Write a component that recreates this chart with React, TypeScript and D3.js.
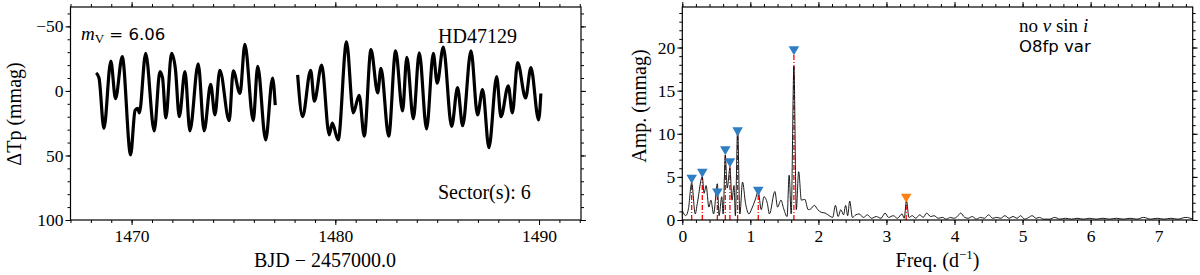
import * as d3 from 'd3';
import { useEffect, useRef } from 'react';

const WIDTH = 1200;
const HEIGHT = 275;
const SERIF = '"Liberation Serif", "DejaVu Serif", serif';
const SANS = '"DejaVu Sans", sans-serif';

// TESS light curve, turning points (BJD - 2457000, mmag)
const lcSeg1Time = [
    1468.26, 1468.4, 1468.64, 1468.98, 1469.21, 1469.54, 1469.95, 1470.17, 1470.29, 1470.38, 1470.69, 1471.11,
    1471.39, 1471.52, 1471.68, 1471.96, 1472.15, 1472.34, 1472.62, 1472.86, 1473.27, 1473.56, 1473.88, 1474.09,
    1474.33, 1474.79, 1474.99, 1475.32, 1475.56, 1475.97, 1476.19, 1476.58, 1476.92, 1477.05,
];
const lcSeg1Mag = [
    -14, -10, 29, -23, 6, -26.5, 49.5, 15, 13.5, 17, -29, 31, -15, -10, 21, -29, -17, 20, -15, 31, -21, 31, -5, 18.5,
    -16, 23, -15.5, 2, -36, 23, -19, 38, -10, 11,
];
const lcSeg2Time = [
    1478.15, 1478.39, 1478.79, 1478.97, 1479.33, 1479.7, 1479.85, 1480.14, 1480.55, 1480.88, 1481.17, 1481.42,
    1481.75, 1482.08, 1482.24, 1482.62, 1482.96, 1483.3, 1483.51, 1483.83, 1484.12, 1484.48, 1484.81, 1485.0,
    1485.3, 1485.71, 1486.0, 1486.25, 1486.66, 1486.98, 1487.23, 1487.54, 1487.92, 1488.13, 1488.49, 1488.69,
    1488.95, 1489.34, 1489.6, 1489.98, 1490.09,
];
const lcSeg2Mag = [
    -12.5, 20, -16, 8, -20, 34, 25, 38, -38, 17, 3.5, 35, -32, 1.5, -17.5, 35, -31, 15.5, -26, 21.5, -29.5, 29.5, -29,
    -6, -34, 27.5, -2.5, 27, -31, 18.5, -1, 44, -11, 20, -4, 17, -22, 5.5, -18, 22.5, 2,
];

// amplitude spectrum (d^-1, mmag)
const freqGrid = [
    0, 0.05, 0.09, 0.138, 0.19, 0.22, 0.294, 0.32, 0.35, 0.39, 0.42, 0.46, 0.515, 0.54, 0.58, 0.6, 0.632, 0.66, 0.7,
    0.73, 0.76, 0.78, 0.813, 0.846, 0.885, 0.93, 0.98, 1.02, 1.07, 1.116, 1.16, 1.2, 1.25, 1.28, 1.36, 1.4, 1.45,
    1.49, 1.54, 1.57, 1.6, 1.64, 1.675, 1.71, 1.75, 1.8, 1.85, 1.89, 1.94, 1.99, 2.04, 2.1, 2.16, 2.21, 2.25, 2.29,
    2.33, 2.37, 2.4, 2.43, 2.46, 2.5, 2.55, 2.6, 2.66, 2.72, 2.78, 2.85, 2.92, 2.98, 3.03, 3.1, 3.16, 3.23, 3.26,
    3.295, 3.33, 3.38, 3.43, 3.49, 3.54, 3.59, 3.65, 3.7, 3.76, 3.82, 3.88, 3.94, 3.99, 4.04, 4.09, 4.15, 4.2, 4.26,
    4.32, 4.38, 4.44, 4.5, 4.56, 4.62, 4.68, 4.74, 4.8, 4.86, 4.92, 4.97, 5.03, 5.09, 5.14, 5.2, 5.25, 5.31, 5.4,
    5.47, 5.55, 5.63, 5.72, 5.8, 5.9, 5.98, 6.08, 6.18, 6.28, 6.38, 6.48, 6.58, 6.68, 6.78, 6.88, 6.98, 7.08, 7.18,
    7.28, 7.4, 7.5,
];
const ampSpectrum = [
    1.1, 0.5, 1.3, 4.3, 0.7, 1.9, 5.0, 3.1, 4.0, 1.5, 2.3, 0.7, 4.2, 0.5, 2.7, 0.7, 7.5, 3.7, 6.0, 2.3, 4.0, 0.5, 10.6,
    0.7, 4.4, 1.9, 0.7, 1.3, 2.3, 3.3, 1.2, 2.7, 1.9, 0.7, 3.3, 1.5, 2.3, 1.3, 0.4, 5.2, 0.7, 17.8, 1.2, 5.6, 2.3,
    2.4, 1.2, 1.3, 1.7, 1.2, 0.9, 0.8, 0.5, 0.3, 1.7, 0.4, 1.2, 0.6, 1.7, 0.5, 2.2, 0.3, 0.6, 0.7, 0.3, 0.6, 0.2, 0.4,
    0.2, 0.8, 0.3, 0.5, 0.2, 0.7, 0.2, 2.2, 0.3, 0.5, 0.2, 0.6, 0.3, 0.8, 0.4, 0.5, 0.2, 0.3, 0.1, 0.3, 0.2, 0.4, 0.8,
    0.3, 0.2, 0.4, 0.1, 0.3, 0.2, 0.6, 0.2, 0.3, 0.2, 0.5, 0.2, 0.4, 0.2, 0.5, 0.1, 0.3, 0.5, 0.2, 0.3, 0.1, 0.1, 0.3,
    0.1, 0.2, 0.1, 0.2, 0.1, 0.2, 0.1, 0.2, 0.1, 0.2, 0.1, 0.2, 0.1, 0.3, 0.1, 0.2, 0.1, 0.2, 0.1, 0.3, 0.1,
];

// extracted frequencies (blue) and the combination frequency (orange)
const peakFreqs = [0.138, 0.294, 0.515, 0.632, 0.7, 0.813, 1.116, 1.64];
const peakAmps = [4.9, 5.6, 3.3, 8.2, 6.8, 10.4, 3.5, 19.8];
const comboFreqs = [3.29];
const comboAmps = [2.7];

const lcXTicks = [1470, 1480, 1490];
const lcYTicks = [-50, 0, 50, 100];
const ampXTicks = [0, 1, 2, 3, 4, 5, 6, 7];
const ampYTicks = [0, 5, 10, 15, 20];

type Scale = d3.ScaleLinear<number, number>;

// ticks pointing outward on all four sides, labels only bottom/left
function drawFrame(
    svg: d3.Selection<SVGSVGElement, unknown, null, undefined>,
    x: Scale,
    y: Scale,
    xMajor: number[],
    xMinor: number[],
    yMajor: number[],
    yMinor: number[]
) {
    const [x0, x1] = x.range();
    const [y0, y1] = y.range(); // y0 bottom, y1 top
    const fmt = d3.format('d');

    const add = (axis: d3.Axis<d3.NumberValue>, tx: number, ty: number) => {
        const a = svg.append('g').attr('transform', `translate(${tx},${ty})`).call(axis);
        a.select('.domain').remove();
        a.attr('font-family', null).attr('font-size', null);
        a.selectAll('line').attr('stroke', '#000').attr('stroke-width', 1);
        a.selectAll('text')
            .style('font-family', SERIF)
            .style('font-size', '17.5px')
            .attr('fill', '#000');
    };
    const none = () => '';

    add(d3.axisBottom(x).tickValues(xMajor).tickSize(5).tickPadding(5).tickFormat((d) => fmt(d)), 0, y0);
    add(d3.axisBottom(x).tickValues(xMinor).tickSize(3).tickFormat(none), 0, y0);
    add(d3.axisTop(x).tickValues(xMajor).tickSize(5).tickFormat(none), 0, y1);
    add(d3.axisTop(x).tickValues(xMinor).tickSize(3).tickFormat(none), 0, y1);
    add(d3.axisLeft(y).tickValues(yMajor).tickSize(5).tickPadding(2).tickFormat((d) => fmt(d)), x0, 0);
    add(d3.axisLeft(y).tickValues(yMinor).tickSize(3).tickFormat(none), x0, 0);
    add(d3.axisRight(y).tickValues(yMajor).tickSize(5).tickFormat(none), x1, 0);
    add(d3.axisRight(y).tickValues(yMinor).tickSize(3).tickFormat(none), x1, 0);

    svg.append('rect')
        .attr('x', x0)
        .attr('y', y1)
        .attr('width', x1 - x0)
        .attr('height', y0 - y1)
        .attr('fill', 'none')
        .attr('stroke', '#000')
        .attr('stroke-width', 1.2);
}

const App = () => {
    const svgRef = useRef<SVGSVGElement | null>(null);

    useEffect(() => {
        if (!svgRef.current) return;
        const svg = d3.select(svgRef.current);
        svg.selectAll('*').remove();

        // ---------- left: light curve ----------
        const xLc = d3.scaleLinear().domain([1467, 1492.06]).range([70.5, 581]);
        const yLc = d3.scaleLinear().domain([100, -65]).range([220, 7]);

        svg.append('clipPath')
            .attr('id', 'clip-lc')
            .append('rect')
            .attr('x', 70.5)
            .attr('y', 7)
            .attr('width', 510.5)
            .attr('height', 213);

        const lcLine = d3
            .line<[number, number]>()
            .x((d) => xLc(d[0]))
            .y((d) => yLc(d[1]))
            .curve(d3.curveMonotoneX);

        const segments: [number, number][][] = [
            lcSeg1Time.map((t, i) => [t, lcSeg1Mag[i]]),
            lcSeg2Time.map((t, i) => [t, lcSeg2Mag[i]]),
        ];
        svg.append('g')
            .attr('clip-path', 'url(#clip-lc)')
            .selectAll('path')
            .data(segments)
            .join('path')
            .attr('d', (d) => lcLine(d))
            .attr('fill', 'none')
            .attr('stroke', '#000')
            .attr('stroke-width', 3.2)
            .attr('stroke-linejoin', 'round');

        drawFrame(svg, xLc, yLc, lcXTicks, d3.range(1467, 1493, 1), lcYTicks, d3.range(-60, 101, 10));

        // m_V label
        const mv = svg.append('text').attr('x', 81).attr('y', 40).attr('fill', '#000');
        mv.append('tspan').attr('font-family', SERIF).attr('font-style', 'italic').attr('font-size', 19).text('m');
        mv.append('tspan')
            .attr('font-family', SERIF)
            .attr('font-size', 13)
            .attr('dy', 3)
            .text('V');
        mv.append('tspan').attr('font-family', SANS).attr('font-size', 16.5).attr('dy', -3).text(' = 6.06');

        svg.append('text')
            .attr('x', 438)
            .attr('y', 43)
            .attr('font-family', SERIF)
            .attr('font-size', 20)
            .text('HD47129');

        svg.append('text')
            .attr('x', 438)
            .attr('y', 199)
            .attr('font-family', SERIF)
            .attr('font-size', 20)
            .text('Sector(s): 6');

        svg.append('text')
            .attr('transform', 'translate(21,114) rotate(-90)')
            .attr('text-anchor', 'middle')
            .attr('font-family', SERIF)
            .attr('font-size', 20)
            .text('ΔTp (mmag)');

        svg.append('text')
            .attr('x', 325)
            .attr('y', 266.5)
            .attr('text-anchor', 'middle')
            .attr('font-family', SERIF)
            .attr('font-size', 20)
            .text('BJD − 2457000.0');

        // ---------- right: amplitude spectrum ----------
        const xF = d3.scaleLinear().domain([0, 7.5]).range([682.3, 1192.7]);
        const yA = d3.scaleLinear().domain([0, 24.7]).range([220, 7]);

        svg.append('clipPath')
            .attr('id', 'clip-amp')
            .append('rect')
            .attr('x', 682.3)
            .attr('y', 7)
            .attr('width', 510.4)
            .attr('height', 213);

        const plot = svg.append('g').attr('clip-path', 'url(#clip-amp)');

        const allPeaks = [
            ...peakFreqs.map((f, i) => ({ f, a: peakAmps[i], combo: false })),
            ...comboFreqs.map((f, i) => ({ f, a: comboAmps[i], combo: true })),
        ];

        plot.selectAll('line.peak')
            .data(allPeaks)
            .join('line')
            .attr('class', 'peak')
            .attr('x1', (d) => xF(d.f))
            .attr('x2', (d) => xF(d.f))
            .attr('y1', yA(0))
            .attr('y2', (d) => yA(d.a))
            .attr('stroke', '#ff0000')
            .attr('stroke-width', 1.3)
            .attr('stroke-dasharray', '5,2,1,2');

        const spec = d3
            .line<number>()
            .x((d, i) => xF(freqGrid[i]))
            .y((d) => yA(d))
            .curve(d3.curveMonotoneX);

        plot.append('path')
            .attr('d', spec(ampSpectrum))
            .attr('fill', 'none')
            .attr('stroke', '#000')
            .attr('stroke-width', 0.9);

        const tri = d3.symbol().type(d3.symbolTriangle).size(48);
        plot.selectAll('path.marker')
            .data(allPeaks)
            .join('path')
            .attr('class', 'marker')
            .attr('d', tri())
            .attr('transform', (d) => `translate(${xF(d.f)},${yA(d.a)}) rotate(180)`)
            .attr('fill', (d) => (d.combo ? '#ff7f0e' : '#2f7dc2'));

        drawFrame(svg, xF, yA, ampXTicks, d3.range(0, 7.51, 0.2), ampYTicks, d3.range(0, 25, 1));

        const vs = svg.append('text').attr('x', 1019).attr('y', 32).attr('font-family', SERIF).attr('font-size', 19);
        vs.append('tspan').text('no ');
        vs.append('tspan').attr('font-style', 'italic').text('v');
        vs.append('tspan').text(' sin ');
        vs.append('tspan').attr('font-style', 'italic').text('i');

        svg.append('text')
            .attr('x', 1019)
            .attr('y', 52)
            .attr('font-family', SANS)
            .attr('font-size', 16.5)
            .text('O8fp var');

        svg.append('text')
            .attr('transform', 'translate(646,106) rotate(-90)')
            .attr('text-anchor', 'middle')
            .attr('font-family', SERIF)
            .attr('font-size', 20)
            .text('Amp. (mmag)');

        const fl = svg
            .append('text')
            .attr('x', 937.5)
            .attr('y', 266.5)
            .attr('text-anchor', 'middle')
            .attr('font-family', SERIF)
            .attr('font-size', 20);
        fl.append('tspan').text('Freq. (d');
        fl.append('tspan').attr('font-size', 13).attr('dy', -8).text('−1');
        fl.append('tspan').attr('dy', 8).text(')');
    }, []);

    return (
        <svg
            ref={svgRef}
            width={WIDTH}
            height={HEIGHT}
            style={{ position: 'absolute', left: 0, top: 0, display: 'block', background: '#fff' }}
        ></svg>
    );
};

export default App;
